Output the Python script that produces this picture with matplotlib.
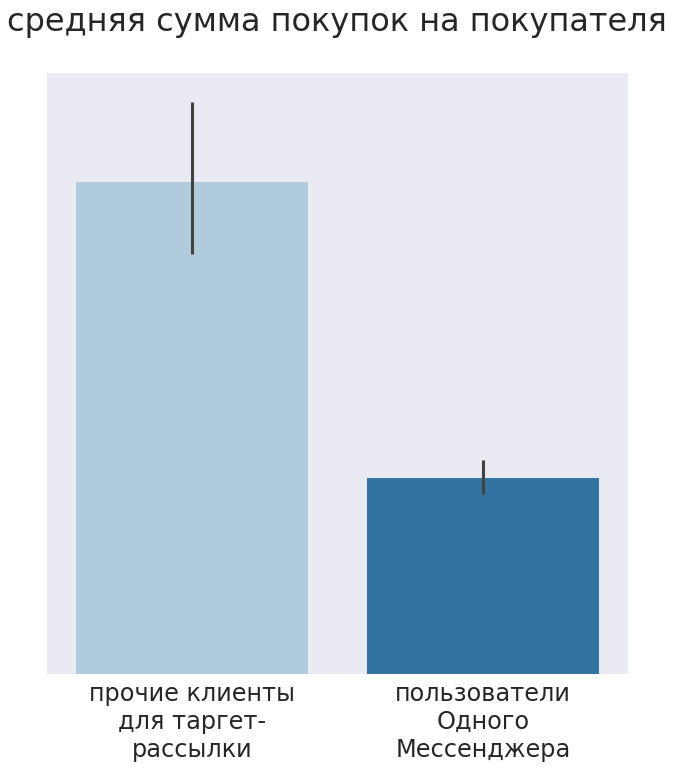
import matplotlib
matplotlib.use("Agg")
import matplotlib.pyplot as plt
import seaborn as sns

# ----------------- Data -----------------
categories = ['прочие клиенты\nдля таргет-\nрассылки', 'пользователи\nОдного\nМессенджера']
means = [493, 196]
ci_low = [420, 180]
ci_high = [573, 214]
colors = ['#b0cbdb', '#3274a1']

sns.set_style('darkgrid')
plt.rcParams['font.family'] = ['DejaVu Sans']

fig = plt.figure(figsize=(6.74, 7.68), dpi=100)
ax = fig.add_axes([47/674, 1 - 674/768, 581/674, 601/768])

x = list(range(len(categories)))
ax.bar(x, means, width=0.8, color=colors, edgecolor='none', linewidth=0, zorder=2)
ax.vlines(x, ci_low, ci_high, color='#424242', lw=2.2, zorder=3)

ax.set_xlim(-0.5, 1.5)
ax.set_ylim(0, max(ci_high) * 1.05)
ax.set_xticks(x)
ax.set_xticklabels(categories, fontsize=17.3, color='#262626')
ax.set_yticks([])
ax.grid(False)
ax.tick_params(axis='x', length=0, pad=6)
for s in ax.spines.values():
    s.set_visible(False)

fig.text(0.5, 1 - 22/768, 'средняя сумма покупок на покупателя',
         ha='center', va='center', fontsize=23, color='#262626')

fig.savefig('out.png', dpi=100)
